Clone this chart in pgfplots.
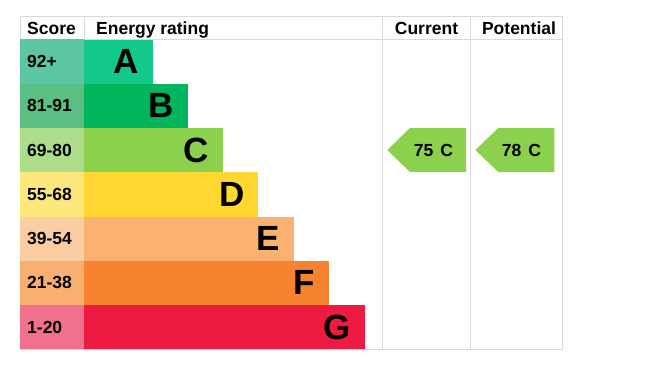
\documentclass[border=0pt]{standalone}
\usepackage{pgfplots}
\pgfplotsset{compat=1.18}
\usepackage{fontspec}
\setmainfont{Liberation Sans}
\definecolor{sA}{HTML}{5CC6A4}
\definecolor{sB}{HTML}{5BBE82}
\definecolor{sC}{HTML}{AEDD8A}
\definecolor{sD}{HTML}{FBE77C}
\definecolor{sE}{HTML}{FBCDA3}
\definecolor{sF}{HTML}{F9AE72}
\definecolor{sG}{HTML}{F0708E}
\definecolor{bA}{HTML}{12C98A}
\definecolor{bB}{HTML}{00B55B}
\definecolor{bC}{HTML}{8CD14E}
\definecolor{bD}{HTML}{FFD730}
\definecolor{bE}{HTML}{FBB171}
\definecolor{bF}{HTML}{F7832F}
\definecolor{bG}{HTML}{EE1A41}
\definecolor{gridc}{HTML}{D9D9D9}
\newcommand{\epchd}{\fontsize{17.5bp}{20bp}\selectfont\bfseries}
\newcommand{\epcletter}{\fontsize{35bp}{38bp}\selectfont\bfseries}
\begin{document}
\begin{tikzpicture}
\begin{axis}[
  width=656bp, height=381bp, scale only axis,
  xmin=0, xmax=656, ymin=0, ymax=381, y dir=reverse,
  hide axis, clip=false,
]
\addplot[draw=none] coordinates {(0,0) (656,381)};
% score column
\addplot[fill=sA, draw=none] coordinates {(20.3,39.3) (84,39.3) (84,83.6) (20.3,83.6)} --cycle;
\addplot[fill=sB, draw=none] coordinates {(20.3,83.6) (84,83.6) (84,127.9) (20.3,127.9)} --cycle;
\addplot[fill=sC, draw=none] coordinates {(20.3,127.9) (84,127.9) (84,172.2) (20.3,172.2)} --cycle;
\addplot[fill=sD, draw=none] coordinates {(20.3,172.2) (84,172.2) (84,216.5) (20.3,216.5)} --cycle;
\addplot[fill=sE, draw=none] coordinates {(20.3,216.5) (84,216.5) (84,260.8) (20.3,260.8)} --cycle;
\addplot[fill=sF, draw=none] coordinates {(20.3,260.8) (84,260.8) (84,305.1) (20.3,305.1)} --cycle;
\addplot[fill=sG, draw=none] coordinates {(20.3,305.1) (84,305.1) (84,349.4) (20.3,349.4)} --cycle;
% bars
\addplot[fill=bA, draw=none] coordinates {(84,39.3) (152.7,39.3) (152.7,83.6) (84,83.6)} --cycle;
\addplot[fill=bB, draw=none] coordinates {(84,83.6) (187.7,83.6) (187.7,127.9) (84,127.9)} --cycle;
\addplot[fill=bC, draw=none] coordinates {(84,127.9) (222.7,127.9) (222.7,172.2) (84,172.2)} --cycle;
\addplot[fill=bD, draw=none] coordinates {(84,172.2) (258.3,172.2) (258.3,216.5) (84,216.5)} --cycle;
\addplot[fill=bE, draw=none] coordinates {(84,216.5) (293.7,216.5) (293.7,260.8) (84,260.8)} --cycle;
\addplot[fill=bF, draw=none] coordinates {(84,260.8) (329,260.8) (329,305.1) (84,305.1)} --cycle;
\addplot[fill=bG, draw=none] coordinates {(84,305.1) (364.7,305.1) (364.7,349.4) (84,349.4)} --cycle;
% grid lines
\addplot[gridc, line width=1bp] coordinates {(20.3,17) (563,17)};
\addplot[gridc, line width=1bp] coordinates {(84,39.3) (563,39.3)};
\addplot[gridc, line width=1bp] coordinates {(20.3,349.4) (563,349.4)};
\addplot[gridc, line width=1bp] coordinates {(20.3,17) (20.3,39.3)};
\addplot[gridc, line width=1bp] coordinates {(84,17) (84,39.3)};
\addplot[gridc, line width=1bp] coordinates {(382.3,17) (382.3,349.4)};
\addplot[gridc, line width=1bp] coordinates {(470.7,17) (470.7,349.4)};
\addplot[gridc, line width=1bp] coordinates {(562.7,17) (562.7,349.4)};
% arrows
\addplot[fill=bC, draw=none] coordinates {(387.3,150) (410,128) (466,128) (466,172) (410,172)} --cycle;
\addplot[fill=bC, draw=none] coordinates {(475.3,150) (498.3,128) (554.3,128) (554.3,172) (498.3,172)} --cycle;
% header text
\node[anchor=base west, inner sep=0pt] at (axis cs:27,34.5) {\epchd Score};
\node[anchor=base west, inner sep=0pt] at (axis cs:96,34.5) {\epchd Energy rating};
\node[anchor=base, inner sep=0pt] at (axis cs:426.5,34.5) {\epchd Current};
\node[anchor=base, inner sep=0pt] at (axis cs:519,34.5) {\epchd Potential};
% score labels
\node[anchor=west, inner sep=0pt] at (axis cs:27,61.4) {\epchd 92+};
\node[anchor=west, inner sep=0pt] at (axis cs:27,105.7) {\epchd 81-91};
\node[anchor=west, inner sep=0pt] at (axis cs:27,150) {\epchd 69-80};
\node[anchor=west, inner sep=0pt] at (axis cs:27,194.3) {\epchd 55-68};
\node[anchor=west, inner sep=0pt] at (axis cs:27,238.6) {\epchd 39-54};
\node[anchor=west, inner sep=0pt] at (axis cs:27,282.9) {\epchd 21-38};
\node[anchor=west, inner sep=0pt] at (axis cs:27,327.2) {\epchd 1-20};
% letters
\node[anchor=east, inner sep=0pt] at (axis cs:139,61.4) {\epcletter A};
\node[anchor=east, inner sep=0pt] at (axis cs:174,105.7) {\epcletter B};
\node[anchor=east, inner sep=0pt] at (axis cs:209,150) {\epcletter C};
\node[anchor=east, inner sep=0pt] at (axis cs:244.5,194.3) {\epcletter D};
\node[anchor=east, inner sep=0pt] at (axis cs:280,238.6) {\epcletter E};
\node[anchor=east, inner sep=0pt] at (axis cs:315,282.9) {\epcletter F};
\node[anchor=east, inner sep=0pt] at (axis cs:351,327.2) {\epcletter G};
% arrow text
\node[inner sep=0pt] at (axis cs:433.5,150) {\epchd 75\hspace{7bp}C};
\node[inner sep=0pt] at (axis cs:521.5,150) {\epchd 78\hspace{7bp}C};
\end{axis}
\end{tikzpicture}
\end{document}
